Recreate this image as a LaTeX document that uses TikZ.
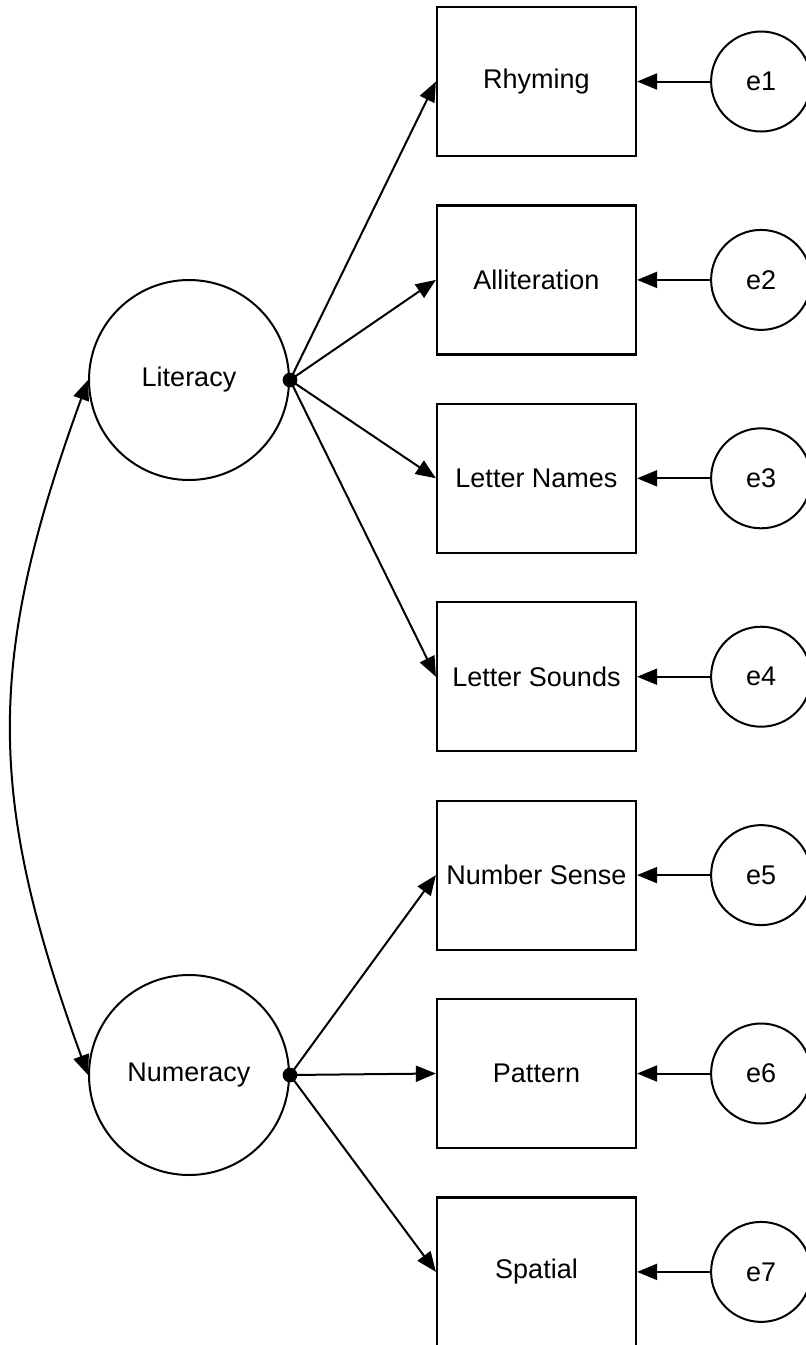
\documentclass[tikz,border=0pt]{standalone}
\usepackage{fontspec}
\setmainfont{Liberation Sans}
\usetikzlibrary{positioning,arrows.meta}

\tikzset{
    measure/.style={draw, line width=1.1pt, minimum width=99.5pt, minimum height=74.5pt, inner sep=2pt},
    latent/.style={draw, circle, line width=1pt, minimum size=100pt, inner sep=0pt},
    errterm/.style={draw, circle, line width=1pt, minimum size=50pt, inner sep=0pt},
    joint/.style={circle, fill=black, inner sep=2.6pt},
    loading/.style={line width=1pt, -{Triangle[length=10pt, width=8pt]}},
}

\begin{document}
\begin{tikzpicture}[font=\fontsize{13.5}{16}\selectfont, node distance=23.6pt]
    \useasboundingbox (0pt,0pt) rectangle (403pt,-672.5pt);

    % observed measures
    \node[measure] (rhyme) at (268.25pt,-40.75pt) {Rhyming};
    \node[measure, below=of rhyme] (allit) {Alliteration};
    \node[measure, below=of allit] (lname) {Letter Names};
    \node[measure, below=of lname] (lsound) {Letter Sounds};
    \node[measure, below=of lsound] (nsense) {Number Sense};
    \node[measure, below=of nsense] (pattern) {Pattern};
    \node[measure, below=of pattern] (spatial) {Spatial};

    % error terms
    \node[errterm, right=36.5pt of rhyme] (e1) {e1};
    \node[errterm, right=36.5pt of allit] (e2) {e2};
    \node[errterm, right=36.5pt of lname] (e3) {e3};
    \node[errterm, right=36.5pt of lsound] (e4) {e4};
    \node[errterm, right=36.5pt of nsense] (e5) {e5};
    \node[errterm, right=36.5pt of pattern] (e6) {e6};
    \node[errterm, right=36.5pt of spatial] (e7) {e7};

    % factors
    \node[latent] (lit) at (94.5pt,-190pt) {Literacy};
    \node[latent] (num) at (94.5pt,-537.5pt) {Numeracy};
    \node[joint] (litdot) at (lit.east) {};
    \node[joint] (numdot) at (num.east) {};

    \foreach \m in {rhyme, allit, lname, lsound}
        \draw[loading] (litdot.center) -- (\m.west);
    \foreach \m in {nsense, pattern, spatial}
        \draw[loading] (numdot.center) -- (\m.west);

    \foreach \e/\m in {e1/rhyme, e2/allit, e3/lname, e4/lsound, e5/nsense, e6/pattern, e7/spatial}
        \draw[loading] (\e) -- (\m);

    % covariance
    \draw[line width=1pt, {Triangle[length=10pt, width=8pt]}-{Triangle[length=10pt, width=8pt]}]
        (lit.west) to[out=250, in=110, looseness=1.1] (num.west);
\end{tikzpicture}
\end{document}
